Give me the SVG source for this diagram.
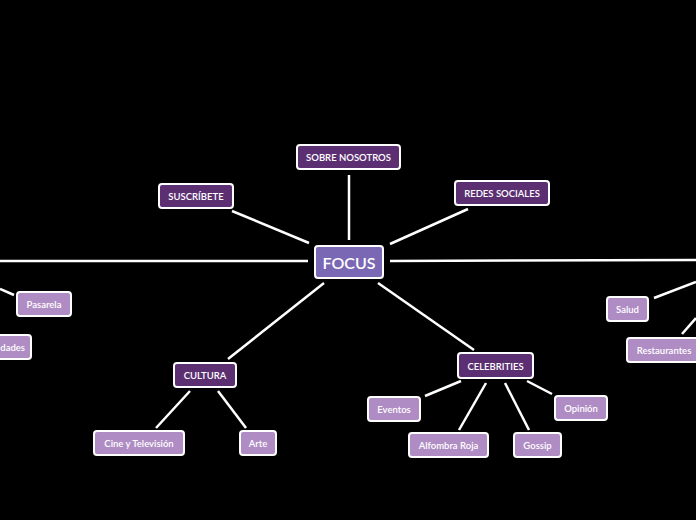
<svg xmlns="http://www.w3.org/2000/svg" width="696" height="520" viewBox="0 0 696 520">
<style>
.bg{fill:#000000}
.edge{stroke:#ffffff;stroke-width:2.5;fill:none;stroke-linecap:butt}
.main rect{fill:#7b68b4;stroke:#ffffff;stroke-width:2}
.cat rect{fill:#5c2f72;stroke:#ffffff;stroke-width:2}
.sub rect{fill:#b08cc4;stroke:#ffffff;stroke-width:2}
text{font-family:"Lato","Liberation Sans",sans-serif;fill:#ffffff;text-anchor:middle;dominant-baseline:central}
.cat text,.sub text{font-size:9.5px;font-weight:600}
.main text{font-size:16px;font-weight:600}
</style>
<rect class="bg" x="0" y="0" width="696" height="520"/>
<g id="connectors">
<line class="edge" x1="0" y1="261" x2="308" y2="261"/>
<line class="edge" x1="390" y1="261" x2="696" y2="260"/>
<line class="edge" x1="349" y1="175" x2="349" y2="240"/>
<line class="edge" x1="232" y1="211" x2="309" y2="243"/>
<line class="edge" x1="468" y1="209" x2="390" y2="244"/>
<line class="edge" x1="324" y1="283" x2="228" y2="359"/>
<line class="edge" x1="378" y1="283" x2="474" y2="350"/>
<line class="edge" x1="0" y1="289" x2="14" y2="295"/>
<line class="edge" x1="654" y1="298" x2="696" y2="282"/>
<line class="edge" x1="682" y1="334" x2="696" y2="318"/>
<line class="edge" x1="190" y1="391" x2="156" y2="428"/>
<line class="edge" x1="218" y1="391" x2="246" y2="428"/>
<line class="edge" x1="461" y1="381" x2="425" y2="396"/>
<line class="edge" x1="486" y1="383" x2="459" y2="430"/>
<line class="edge" x1="505" y1="383" x2="529" y2="430"/>
<line class="edge" x1="527" y1="381" x2="552" y2="394"/>
</g>
<g id="focus" class="main"><rect x="315" y="246" width="68" height="32" rx="3"/><text x="349" y="262.5">FOCUS</text></g>
<g id="sobre-nosotros" class="cat"><rect x="297" y="145" width="103" height="24" rx="3"/><text x="348.5" y="157.5">SOBRE NOSOTROS</text></g>
<g id="suscribete" class="cat"><rect x="159" y="184" width="74" height="24" rx="3"/><text x="196" y="196.5">SUSCRÍBETE</text></g>
<g id="redes-sociales" class="cat"><rect x="455" y="181" width="94" height="24" rx="3"/><text x="502" y="193.5">REDES SOCIALES</text></g>
<g id="cultura" class="cat"><rect x="174" y="363" width="62" height="24" rx="3"/><text x="205" y="375.5">CULTURA</text></g>
<g id="celebrities" class="cat"><rect x="458" y="353" width="75" height="25" rx="3"/><text x="495.5" y="366">CELEBRITIES</text></g>
<g id="pasarela" class="sub"><rect x="17" y="292" width="54" height="24" rx="3"/><text x="44" y="304.5">Pasarela</text></g>
<g id="dades" class="sub"><rect x="-30" y="335" width="61" height="24" rx="3"/><text x="25" y="347.5" style="text-anchor:end">dades</text></g>
<g id="salud" class="sub"><rect x="607" y="297" width="41" height="24" rx="3"/><text x="627.5" y="309.5">Salud</text></g>
<g id="restaurantes" class="sub"><rect x="627" y="338" width="74" height="24" rx="3"/><text x="664" y="350.5">Restaurantes</text></g>
<g id="cine" class="sub"><rect x="94" y="431" width="90" height="24" rx="3"/><text x="139" y="443.5">Cine y Televisión</text></g>
<g id="arte" class="sub"><rect x="240" y="431" width="36" height="24" rx="3"/><text x="258" y="443.5">Arte</text></g>
<g id="eventos" class="sub"><rect x="368" y="397" width="52" height="24" rx="3"/><text x="394" y="409.5">Eventos</text></g>
<g id="alfombra" class="sub"><rect x="409" y="433" width="79" height="24" rx="3"/><text x="448.5" y="445.5">Alfombra Roja</text></g>
<g id="gossip" class="sub"><rect x="514" y="433" width="47" height="24" rx="3"/><text x="537.5" y="445.5">Gossip</text></g>
<g id="opinion" class="sub"><rect x="555" y="396" width="52" height="24" rx="3"/><text x="581" y="408.5">Opinión</text></g>
</svg>
